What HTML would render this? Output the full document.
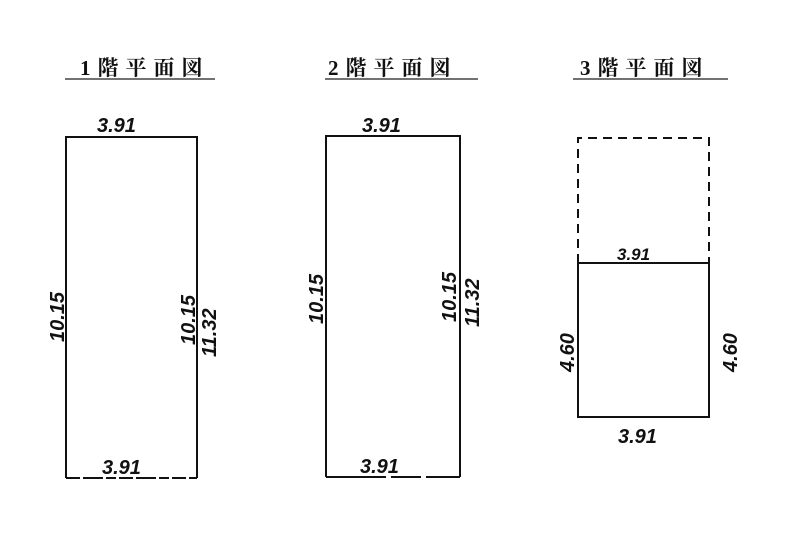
<!DOCTYPE html>
<html><head><meta charset="utf-8"><style>
html,body{margin:0;padding:0;background:#fff;width:800px;height:545px;overflow:hidden}
svg text{font-family:"Liberation Sans",sans-serif;font-style:italic;fill:#111}
.t{font-family:"Liberation Serif","Noto Serif CJK SC",serif;font-style:normal;font-size:21px;letter-spacing:7px;font-weight:bold}
</style></head><body>
<svg width="800" height="545" viewBox="0 0 800 545" xmlns="http://www.w3.org/2000/svg">
<g stroke="#111" fill="none">
<line x1="65" y1="79" x2="215" y2="79" stroke-width="1.5" stroke="#444"/>
<line x1="325" y1="79" x2="478" y2="79" stroke-width="1.5" stroke="#444"/>
<line x1="573" y1="79" x2="728" y2="79" stroke-width="1.5" stroke="#444"/>
<path d="M66 478 V137 H197 V478" stroke-width="2"/>
<line x1="66" y1="478" x2="197" y2="478" stroke-width="2" stroke-dasharray="14 3 20 3 10 3"/>
<path d="M326 477 V136 H460 V477" stroke-width="2"/>
<line x1="326" y1="477" x2="460" y2="477" stroke-width="2" stroke-dasharray="60 5 30 5"/>
<path d="M578 263 V138 H709 V263" stroke-width="2" stroke-dasharray="9 6"/>
<rect x="578" y="263" width="131" height="154" stroke-width="2"/>
</g>
<text class="t" x="80" y="75">1階平面図</text>
<text class="t" x="328" y="75">2階平面図</text>
<text class="t" x="580" y="75">3階平面図</text>
<g font-size="20" font-weight="bold">
<text x="97" y="132">3.91</text>
<text x="102" y="474">3.91</text>
<text x="362" y="132">3.91</text>
<text x="360" y="473">3.91</text>
<text x="617" y="260" font-size="17">3.91</text>
<text x="618" y="443">3.91</text>
<text transform="translate(64,342) rotate(-90)">10.15</text>
<text transform="translate(195,345) rotate(-90)">10.15</text>
<text transform="translate(216,357) rotate(-90)">11.32</text>
<text transform="translate(323,324) rotate(-90)">10.15</text>
<text transform="translate(456,322) rotate(-90)">10.15</text>
<text transform="translate(479,327) rotate(-90)">11.32</text>
<text transform="translate(574,372) rotate(-90)">4.60</text>
<text transform="translate(737,372) rotate(-90)">4.60</text>
</g>
</svg>
</body></html>
